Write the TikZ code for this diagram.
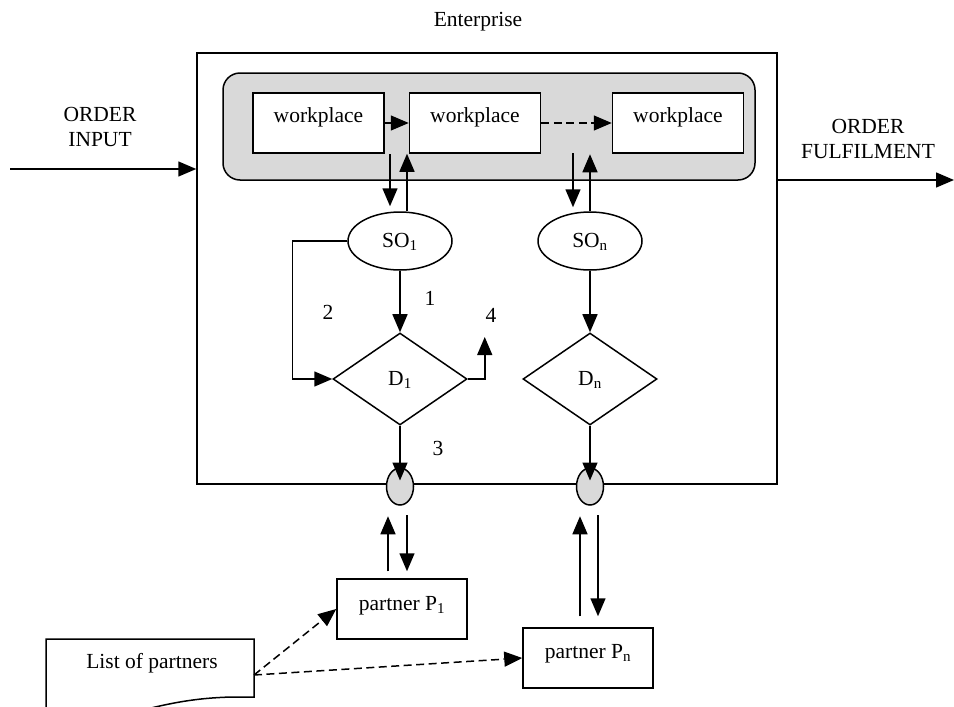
\documentclass[tikz,border=0pt]{standalone}
\usepackage{fontspec}
\setmainfont{Liberation Serif}
\usetikzlibrary{arrows.meta,shapes.geometric}
\definecolor{panelgray}{RGB}{217,217,217}
\begin{document}
\begin{tikzpicture}[x=1pt,y=-1pt,line width=1.5pt,
  font=\fontsize{21.5}{25}\selectfont,
  arr/.style={-{Triangle[length=18pt,width=15pt]}},
  dashedarr/.style={arr,dash pattern=on 8pt off 4.5pt},
  wpbox/.style={draw,fill=white,inner sep=0pt,minimum width=131pt,text height=29pt,text depth=31pt},
  pbox/.style={draw,fill=white,inner sep=0pt,minimum width=130pt},
  soell/.style={draw,fill=white,ellipse,inner sep=0pt,minimum width=104pt,minimum height=58pt,text height=12pt,text depth=0pt},
  dec/.style={draw,fill=white,diamond,inner sep=0pt,minimum width=134pt,minimum height=92pt,text height=12pt,text depth=0pt},
  port/.style={draw,fill=panelgray,ellipse,inner sep=0pt,minimum width=27pt,minimum height=37pt},
  lbl/.style={inner sep=0pt}
]
\useasboundingbox (0,0) rectangle (954,707);

% enterprise frame
\node[draw,inner sep=0pt,minimum width=580pt,minimum height=431pt] (ent) at (487,268.5) {};
\node (entl) at (478,22) {Enterprise};

% workplaces panel
\node[draw,fill=panelgray,rounded corners=17pt,inner sep=0pt,minimum width=532pt,minimum height=107pt] (panel) at (489,126.5) {};
\node[wpbox] (wp1) at (318.5,123) {workplace};
\node[wpbox] (wp2) at (475,123) {workplace};
\node[wpbox] (wp3) at (678,123) {workplace};
\draw[arr] (wp1.east) -- (wp2.west);
\draw[dashedarr] (wp2.east) -- (wp3.west);

% SO and D
\node[soell] (so1) at (400,241) {SO\textsubscript{1}};
\node[soell] (son) at (590,241) {SO\textsubscript{n}};
\node[dec] (d1) at (400,379) {D\textsubscript{1}};
\node[dec] (dn) at (590,379) {D\textsubscript{n}};

% ports on frame
\node[port] (c1) at (400,486.5) {};
\node[port] (cn) at (590,486.5) {};

% workplace <-> SO
\draw[arr] ([xshift=-10pt,yshift=57pt]so1.north) -- ([xshift=-10pt,yshift=5pt]so1.north);
\draw[arr] ([xshift=7pt]so1.north) -- ([xshift=7pt]so1.north |- wp2.south);
\draw[arr] ([xshift=-17pt,yshift=58pt]son.north) -- ([xshift=-17pt,yshift=4pt]son.north);
\draw[arr] (son.north) -- ([yshift=57pt]son.north);

% SO -> D
\draw[arr] (so1) -- (d1);
\draw[arr] (son) -- (dn);
\draw[arr] (so1.west) -- ++(-55,0) |- (d1.west);
\draw[arr] (d1.east) -- ++(17,0) -- ++(0,-42);
\draw[arr] (d1.south) -- ([yshift=6pt]c1.center);
\draw[arr] (dn.south) -- ([yshift=6pt]cn.center);

\node[lbl] (l1) at (430,298) {1};
\node[lbl] (l2) at (328,312) {2};
\node[lbl] (l4) at (491,315) {4};
\node[lbl] (l3) at (438,448) {3};

% partners
\node[pbox,text height=31pt,text depth=29pt] (p1) at (402,609) {partner P\textsubscript{1}};
\node[pbox,text height=30pt,text depth=30pt] (pn) at (588,658) {partner P\textsubscript{n}};

\draw[arr] ([xshift=-14pt,yshift=7pt]p1.north) -- ++(0,-55);
\draw[arr] ([xshift=7pt,yshift=-28.5pt]c1.center) -- ([xshift=5pt,yshift=7pt]p1.north);
\draw[arr] ([xshift=-8pt,yshift=11pt]pn.north) -- ++(0,-100);
\draw[arr] ([xshift=8pt,yshift=-28.5pt]cn.center) -- ([xshift=10pt,yshift=11pt]pn.north);

% list of partners (document shape)
\draw (46,712) -- (46,639) -- (254,639) -- (254,697) -- (232,697) .. controls (195,698) and (170,703) .. (135,712);
\node (list) at (152,663) {List of partners};
\coordinate (ls) at (254,675);
\draw[dashedarr] (ls) -- (p1.west);
\draw[dashedarr] (ls) -- (pn.west);

% order in / out
\node[align=center] (oin) at (100,127) {ORDER\\INPUT};
\coordinate (inp) at (10,169);
\draw[arr] (inp) -- (inp -| ent.west);
\node[align=center] (oout) at (868,139) {ORDER\\FULFILMENT};
\coordinate (outp) at (954,180);
\draw[arr] (outp -| ent.east) -- (outp);
\end{tikzpicture}
\end{document}
